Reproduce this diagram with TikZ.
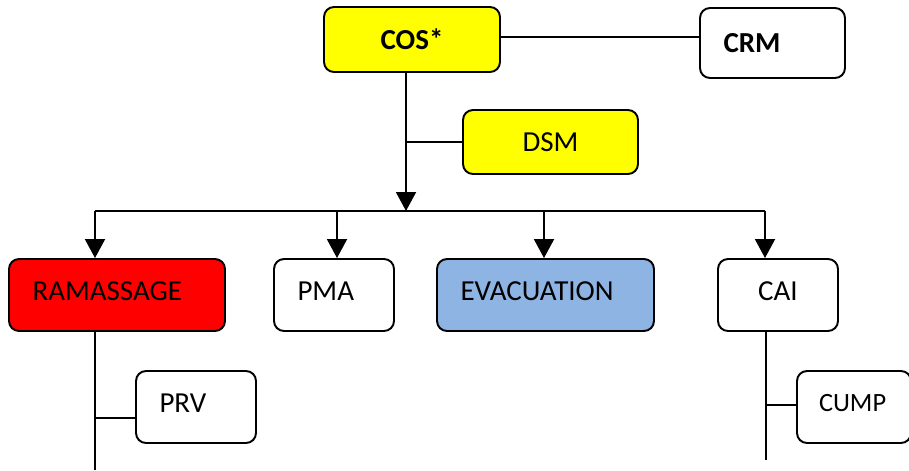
\documentclass[tikz,border=0pt]{standalone}
\usepackage{fontspec}
\setmainfont{Carlito}
\usetikzlibrary{arrows.meta}

\definecolor{cosyellow}{RGB}{255,255,0}
\definecolor{ramred}{RGB}{255,0,0}
\definecolor{evacblue}{RGB}{142,180,227}

\tikzset{
  unit/.style={draw=black, line width=1.1pt, rounded corners=0.2cm, minimum height=1.44cm,
    inner xsep=0.47cm, font=\fontsize{16.5}{18}\selectfont},
  lunit/.style={unit, align=left, text width=#1},
  cunit/.style={unit, align=center, text width=#1},
  raised/.style={text depth=0.15cm},
  link/.style={line width=1.1pt},
  flow/.style={line width=1.1pt, -{Triangle[length=0.38cm, width=0.4cm]}}
}

\begin{document}
\begin{tikzpicture}[x=0.02cm, y=-0.02cm]
\useasboundingbox (0,0) rectangle (909,470);

\node[cunit=2.58cm, fill=cosyellow, minimum height=1.3cm, font=\fontsize{16.5}{18}\selectfont\bfseries] (cos) at (412,39.5) {COS*};
\node[lunit=1.96cm, minimum height=1.4cm, font=\fontsize{16.5}{18}\selectfont\bfseries] (crm) at (772.5,43) {CRM};
\node[cunit=2.56cm, fill=cosyellow, minimum height=1.28cm] (dsm) at (550.5,142) {DSM};

\node[lunit=3.38cm, raised, fill=ramred] (ram) at (117,295) {RAMASSAGE};
\node[lunit=1.46cm, raised] (pma) at (334,295) {PMA};
\node[lunit=3.4cm, raised, fill=evacblue] (evac) at (545.5,295) {EVACUATION};
\node[cunit=1.46cm, raised] (cai) at (778,295) {CAI};

\node[lunit=1.46cm, raised] (prv) at (196,407) {PRV};
\node[lunit=1.4cm, raised, inner xsep=0.44cm, font=\fontsize{15}{17}\selectfont] (cump) at (854,407) {CUMP};

\coordinate (hub) at (406,211);
\coordinate (barL) at (95,211);
\coordinate (barR) at (765,211);
\coordinate (prvJoin) at (95,418);
\coordinate (ramEnd) at (95,470);
\coordinate (cumpJoin) at (766,405);
\coordinate (caiEnd) at (766,460);

\draw[link] (cos.east |- 0,37) -- (crm.west |- 0,37);
\draw[flow] (hub |- cos.south) -- (hub);% trunk
\draw[link] (dsm.west) -- (dsm.west -| hub);
\draw[link] (barL) -- (barR);

\draw[flow] (barL) -- (barL |- ram.north);
\draw[flow] (barL -| 337,0) -- (337,0 |- pma.north);
\draw[flow] (barL -| 544,0) -- (544,0 |- evac.north);
\draw[flow] (barR) -- (barR |- cai.north);

\draw[link] (barL |- ram.south) -- (ramEnd);
\draw[link] (prvJoin) -- (prvJoin -| prv.west);
\draw[link] (caiEnd |- cai.south) -- (caiEnd);
\draw[link] (cumpJoin) -- (cumpJoin -| cump.west);
\end{tikzpicture}
\end{document}
